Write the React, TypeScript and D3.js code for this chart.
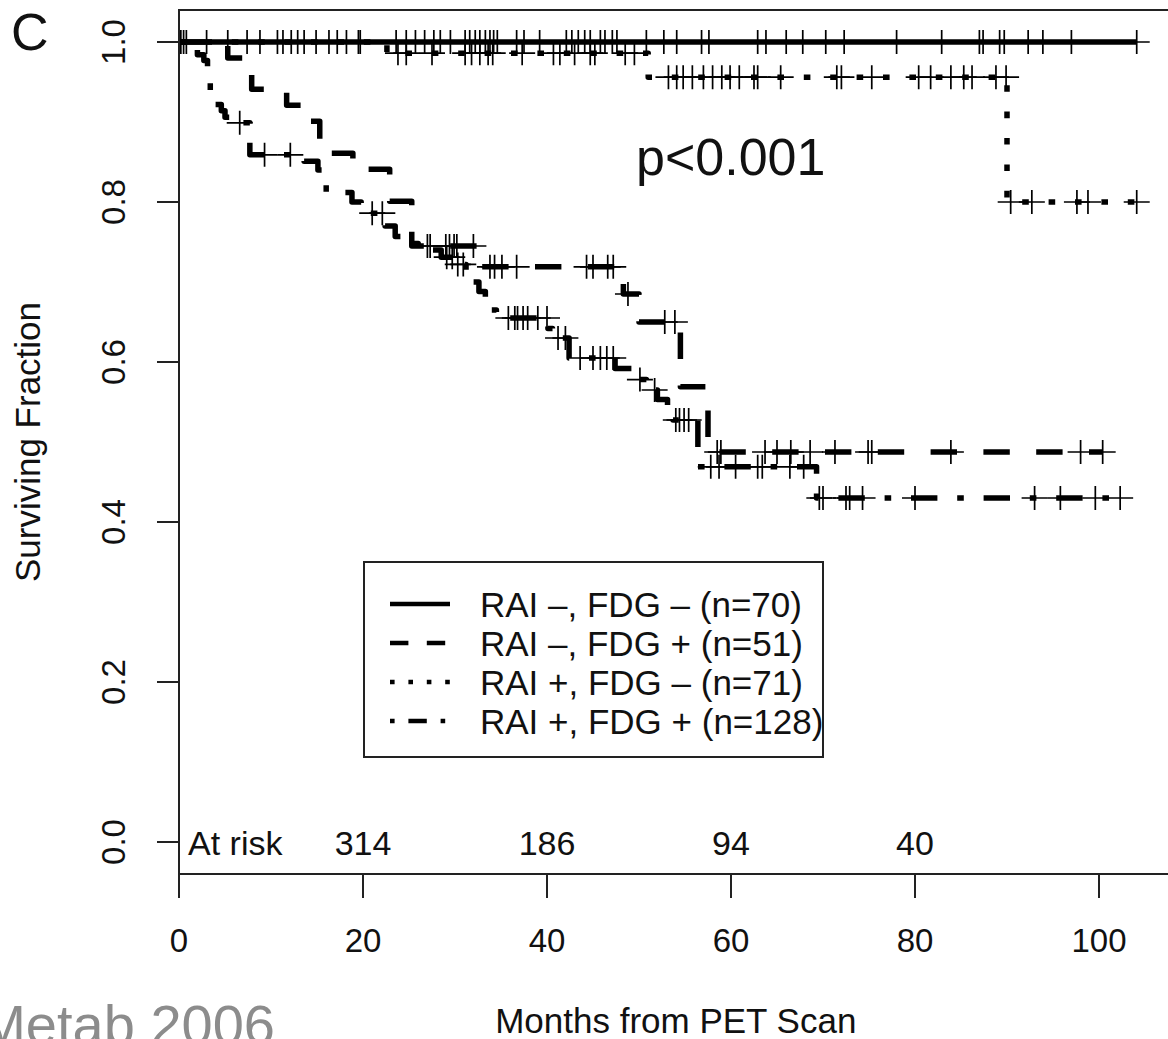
import React from "react";
import * as d3 from "d3";

const W = 1168;
const H = 1039;
const FONT = "'Liberation Sans', Arial, Helvetica, sans-serif";

const xTicks = [0, 20, 40, 60, 80, 100];
const yTicks = [0, 0.2, 0.4, 0.6, 0.8, 1.0];
const atRiskTimes = [20, 40, 60, 80];
const atRiskCounts = [314, 186, 94, 40];

const legendLabels = [
  "RAI \u2013, FDG \u2013 (n=70)",
  "RAI \u2013, FDG + (n=51)",
  "RAI +, FDG \u2013 (n=71)",
  "RAI +, FDG + (n=128)",
];

// steps: [month of drop, surviving fraction after it]
// RAI -, FDG - : no events
const negNegSteps: [number, number][] = [];
const negNegCensor = [
  0.2, 0.5, 0.8, 3.0, 5.3, 7.4, 8.8, 10.7, 11.3, 12.2, 12.9, 13.6, 14.9, 16.3, 17.2,
  18.2, 19.5, 19.7, 23.6, 24.7, 25.7, 26.7, 27.7, 28.4, 29.5, 31.1, 31.6, 32.2, 32.7,
  33.3, 33.8, 34.2, 34.6, 36.7, 37.5, 39.2, 42.1, 42.7, 43.4, 44.1, 44.7, 45.8, 46.3,
  47.1, 47.6, 50.8, 52.7, 54.1, 56.8, 57.6, 62.9, 63.8, 66.0, 67.8, 70.3, 72.3, 78.0,
  82.9, 87.0, 87.4, 89.2, 89.7, 92.3, 93.9, 97.0, 104.1,
];

// RAI -, FDG +
const negPosSteps: [number, number][] = [
  [5.3, 0.98], [7.9, 0.941], [11.7, 0.921], [13.7, 0.901], [15.3, 0.861],
  [18.9, 0.841], [22.9, 0.801], [25.3, 0.745], [32.5, 0.719], [48.3, 0.685],
  [50.0, 0.65], [54.5, 0.569], [57.5, 0.4875],
];
const negPosCensor = [
  27.0, 27.3, 29.0, 29.4, 29.9, 30.2, 32.0, 33.8, 34.3, 35.1, 36.7, 44.3, 45.0, 46.6,
  47.2, 48.8, 52.8, 53.9, 58.5, 58.9, 63.7, 65.0, 66.5, 68.6, 71.3, 74.9, 75.3, 83.9,
  98.0, 100.4,
];

// RAI +, FDG -
const posNegSteps: [number, number][] = [
  [22.6, 0.986], [51.0, 0.956], [90.0, 0.8],
];
const posNegCensor = [
  23.8, 24.7, 27.5, 31.1, 31.8, 32.7, 33.6, 34.1, 37.3, 40.7, 41.4, 43.0, 44.7, 45.2,
  48.5, 49.5, 53.2, 54.1, 54.8, 55.8, 57.0, 58.0, 59.0, 59.9, 60.9, 62.5, 62.9, 65.4,
  71.5, 72.0, 75.3, 80.4, 81.7, 83.9, 85.3, 86.2, 88.8, 89.9, 90.4, 92.7, 97.6, 98.8,
  104.1,
];

// RAI +, FDG +
const posPosSteps: [number, number][] = [
  [1.2, 0.992], [2.0, 0.984], [2.7, 0.977], [3.1, 0.969], [3.4, 0.938], [3.8, 0.922],
  [4.6, 0.914], [5.0, 0.906], [5.5, 0.899], [7.7, 0.859], [13.6, 0.851], [15.1, 0.84],
  [16.0, 0.812], [18.8, 0.8], [19.8, 0.786], [22.4, 0.77], [23.5, 0.757], [24.8, 0.748],
  [26.0, 0.74], [28.5, 0.731], [30.0, 0.722], [31.2, 0.712], [32.0, 0.7], [32.6, 0.688],
  [33.3, 0.676], [34.0, 0.665], [34.5, 0.655], [40.1, 0.642], [40.6, 0.63], [42.4, 0.605],
  [47.4, 0.592], [49.7, 0.578], [50.8, 0.565], [52.0, 0.553], [53.1, 0.54], [53.7, 0.5275],
  [56.4, 0.469], [69.3, 0.43],
];
const posPosCensor = [
  6.6, 9.3, 12.1, 21.0, 22.1, 29.1, 29.7, 30.3, 30.9, 35.8, 36.5, 36.8, 37.4, 37.9, 39.0,
  40.0, 41.2, 42.0, 43.6, 45.0, 45.8, 46.5, 47.2, 50.1, 51.7, 54.0, 54.4, 54.9, 55.4,
  57.8, 58.7, 60.5, 62.9, 63.4, 66.4, 67.9, 69.6, 70.0, 72.5, 72.9, 74.3, 80.0, 93.0,
  95.8, 99.6, 102.3,
];

const U = 6.6; // dash unit of the curves
const LU = 4.6; // dash unit of the legend samples

const groups = [
  { steps: negNegSteps, censor: negNegCensor, dash: "none", legDash: "none" },
  { steps: negPosSteps, censor: negPosCensor, dash: `${4 * U} ${4 * U}`, legDash: `${4 * LU} ${4 * LU}` },
  { steps: posNegSteps, censor: posNegCensor, dash: `${U} ${3 * U}`, legDash: `${LU} ${3 * LU}` },
  { steps: posPosSteps, censor: posPosCensor, dash: `${U} ${3 * U} ${4 * U} ${3 * U}`, legDash: `${LU} ${3 * LU} ${4 * LU} ${3 * LU}` },
];

const x = d3.scaleLinear().domain([0, 108]).range([179, 1172.6]);
const y = d3.scaleLinear().domain([-0.04, 1.04]).range([874, 10]);

const survAt = (steps: [number, number][], t: number) => {
  let v = 1;
  for (const [st, sv] of steps) if (st <= t) v = sv;
  return v;
};

const kmLine = d3
  .line<[number, number]>()
  .x((d) => x(d[0]))
  .y((d) => y(d[1]))
  .curve(d3.curveStepAfter);

export default function App() {
  const left = x(0);
  const right = x(108);
  const top = y(1.04);
  const bottom = y(-0.04);

  return (
    <svg
      width={W}
      height={H}
      style={{ position: "absolute", left: 0, top: 0, background: "#fff" }}
      fontFamily={FONT}
    >
      <rect x={0} y={0} width={W} height={H} fill="#fff" />

      {/* curves */}
      {groups
        .slice()
        .reverse()
        .map((g, i) => {
          const end = d3.max(g.censor) as number;
          const pts: [number, number][] = [[0, 1], ...g.steps, [end, survAt(g.steps, end)]];
          return (
            <path
              key={"c" + i}
              d={kmLine(pts) || ""}
              fill="none"
              stroke="#000"
              strokeWidth={5.5}
              strokeDasharray={g.dash}
              strokeLinejoin="round"
            />
          );
        })}

      {/* censor marks */}
      {groups.map((g, gi) =>
        g.censor.map((t, i) => {
          const cx = x(t);
          const cy = y(survAt(g.steps, t));
          return (
            <path
              key={`m${gi}-${i}`}
              d={`M${cx - 13},${cy}H${cx + 13}M${cx},${cy - 12}V${cy + 12}`}
              stroke="#000"
              strokeWidth={1.7}
              fill="none"
            />
          );
        })
      )}

      {/* box */}
      <rect x={left} y={top} width={right - left} height={bottom - top} fill="none" stroke="#222" strokeWidth={2} />

      {/* y axis */}
      {yTicks.map((v) => (
        <g key={"y" + v}>
          <line x1={left - 22} x2={left} y1={y(v)} y2={y(v)} stroke="#222" strokeWidth={2} />
          <text
            transform={`translate(125,${y(v)}) rotate(-90)`}
            textAnchor="middle"
            fontSize={33}
            fill="#111"
          >
            {v.toFixed(1)}
          </text>
        </g>
      ))}
      <text transform={`translate(40,${(top + bottom) / 2}) rotate(-90)`} textAnchor="middle" fontSize={35} fill="#111">
        Surviving Fraction
      </text>

      {/* x axis */}
      {xTicks.map((t) => (
        <g key={"x" + t}>
          <line x1={x(t)} x2={x(t)} y1={bottom} y2={bottom + 24} stroke="#222" strokeWidth={2} />
          <text x={x(t)} y={952} textAnchor="middle" fontSize={33} fill="#111">
            {t}
          </text>
        </g>
      ))}
      <text x={(left + right) / 2} y={1033} textAnchor="middle" fontSize={35} fill="#111">
        Months from PET Scan
      </text>

      {/* at risk */}
      <text x={188} y={855} fontSize={34} fill="#111">
        At risk
      </text>
      {atRiskTimes.map((t, i) => (
        <text key={"r" + t} x={x(t)} y={855} textAnchor="middle" fontSize={34} fill="#111">
          {atRiskCounts[i]}
        </text>
      ))}

      {/* legend */}
      <rect x={364} y={562} width={459} height={195} fill="#fff" stroke="#222" strokeWidth={2} />
      {legendLabels.map((lab, i) => {
        const ry = 604 + i * 39;
        return (
          <g key={"l" + i}>
            <line x1={390} x2={450} y1={ry} y2={ry} stroke="#000" strokeWidth={4.5} strokeDasharray={groups[i].legDash} />
            <text x={480} y={ry + 13} fontSize={35} fill="#111">
              {lab}
            </text>
          </g>
        );
      })}

      <text x={636} y={175} fontSize={52} fill="#111">
        p&lt;0.001
      </text>
      <text x={11} y={50} fontSize={52} fill="#111">
        C
      </text>
      <text x={275} y={1044} textAnchor="end" fontSize={56} fill="#8c8c8c">
        Metab 2006
      </text>
    </svg>
  );
}
